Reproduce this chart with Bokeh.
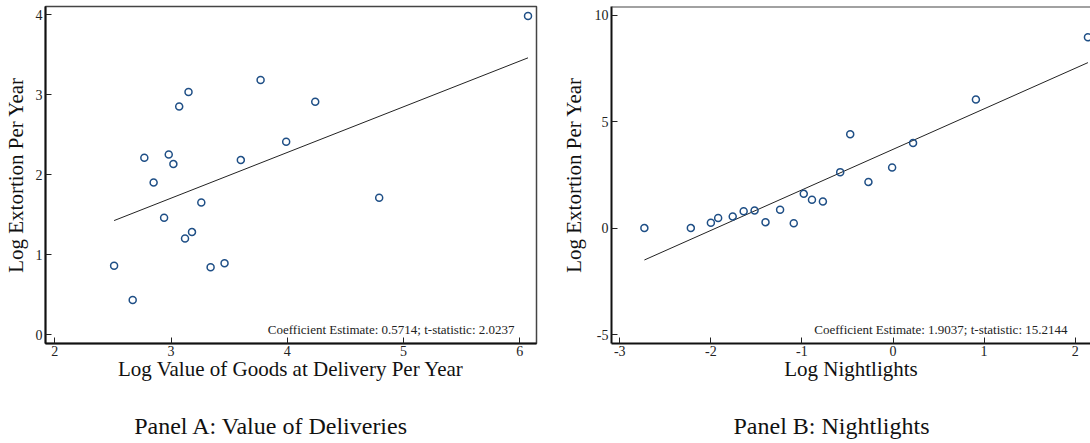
import numpy as np
from bokeh.plotting import figure
from bokeh.models import FixedTicker, Label, Range1d, Span
from bokeh.layouts import row, column
from bokeh.embed import file_html
from bokeh.resources import INLINE

# ---------------- data ----------------
# Panel A: Value of Deliveries
a_x = [2.51, 2.67, 2.77, 2.85, 2.94, 2.98, 3.02, 3.07, 3.12, 3.15,
       3.18, 3.26, 3.34, 3.46, 3.60, 3.77, 3.99, 4.24, 4.79, 6.07]
a_y = [0.86, 0.43, 2.21, 1.90, 1.46, 2.25, 2.13, 2.85, 1.20, 3.03,
       1.28, 1.65, 0.84, 0.89, 2.18, 3.18, 2.41, 2.91, 1.71, 3.98]
a_coef = 0.5714
a_intercept = -0.01
a_tstat = 2.0237
a_xticks = [2, 3, 4, 5, 6]
a_yticks = [0, 1, 2, 3, 4]

# Panel B: Nightlights
b_x = [-2.73, -2.22, -2.00, -1.92, -1.76, -1.64, -1.52, -1.40, -1.24, -1.09,
       -0.98, -0.89, -0.77, -0.58, -0.47, -0.27, -0.01, 0.22, 0.91, 2.14]
b_y = [0.00, 0.00, 0.25, 0.47, 0.55, 0.79, 0.83, 0.28, 0.86, 0.23,
       1.61, 1.33, 1.25, 2.63, 4.41, 2.17, 2.85, 4.00, 6.04, 8.97]
b_coef = 1.9037
b_intercept = 3.70
b_tstat = 15.2144
b_xticks = [-3, -2, -1, 0, 1, 2]
b_yticks = [-5, 0, 5, 10]

captions = ["Panel A: Value of Deliveries", "Panel B: Nightlights"]

FONT = "Liberation Serif"
MARK = "#1f4f86"


def make_panel(xs, ys, coef, intercept, tstat, xr, yr, xticks, yticks,
               xlabel, ylabel, width, border_left, border_right,
               ylab_standoff, note_x, outline=True):
    p = figure(width=width, height=383, output_backend="svg",
               toolbar_location=None, x_range=Range1d(*xr), y_range=Range1d(*yr),
               min_border_left=border_left, min_border_right=border_right,
               min_border_top=6, min_border_bottom=40)
    p.background_fill_color = "white"
    p.border_fill_color = "white"
    p.xgrid.visible = False
    p.ygrid.visible = False
    if outline:
        p.outline_line_color = "#444444"
        p.outline_line_width = 1.5
    else:
        p.outline_line_color = None
        p.add_layout(Span(location=yr[1], dimension="width",
                          line_color="#444444", line_width=2))

    for ax, ticks in ((p.xaxis[0], xticks), (p.yaxis[0], yticks)):
        ax.ticker = FixedTicker(ticks=ticks)
        ax.major_label_overrides = {t: str(t) for t in ticks}
        ax.minor_tick_line_color = None
        ax.major_tick_in = 6
        ax.major_tick_out = 0
        ax.major_tick_line_color = "#222222"
        ax.major_tick_line_width = 1
        ax.axis_line_color = "#111111"
        ax.axis_line_width = 2
        ax.major_label_text_font = FONT
        ax.major_label_text_font_size = "14px"
        ax.major_label_text_color = "#222222"
        ax.axis_label_text_font = FONT
        ax.axis_label_text_font_size = "21px"
        ax.axis_label_text_font_style = "normal"
        ax.axis_label_text_color = "#111111"
    p.xaxis.major_label_standoff = 2
    p.yaxis.major_label_standoff = 3
    p.xaxis.axis_label = xlabel
    p.yaxis.axis_label = ylabel
    p.xaxis.axis_label_standoff = -2
    p.yaxis.axis_label_standoff = ylab_standoff

    # fitted line
    lx = np.array([min(xs), max(xs)])
    ly = intercept + coef * lx
    p.line(lx, ly, line_color="#222222", line_width=1)

    p.scatter(xs, ys, marker="circle", size=7, fill_color=None,
              line_color=MARK, line_width=1.5)

    p.add_layout(Label(x=note_x, y=14, x_units="screen", y_units="screen",
                       text=f"Coefficient Estimate: {coef:.4f}; t-statistic: {tstat:.4f}",
                       text_font=FONT, text_font_size="13px",
                       text_color="#222222", text_align="right",
                       text_baseline="alphabetic"))
    return p


pA = make_panel(a_x, a_y, a_coef, a_intercept, a_tstat,
                (1.920, 6.143), (-0.1125, 4.10), a_xticks, a_yticks,
                "Log Value of Goods at Delivery Per Year", "Log Extortion Per Year",
                width=553, border_left=43, border_right=17, ylab_standoff=5,
                note_x=469)

pB = make_panel(b_x, b_y, b_coef, b_intercept, b_tstat,
                (-3.091, 2.168), (-5.42, 10.41), b_xticks, b_yticks,
                "Log Nightlights", "Log Extortion Per Year",
                width=537, border_left=58, border_right=0, ylab_standoff=6,
                note_x=456, outline=False)

# caption strip below both panels
pC = figure(width=1090, height=60, output_backend="svg", toolbar_location=None,
            x_axis_type=None, y_axis_type=None, min_border=0,
            x_range=Range1d(0, 1), y_range=Range1d(0, 1))
pC.outline_line_color = None
pC.xgrid.visible = False
pC.ygrid.visible = False
for cap, cx in zip(captions, [271, 831]):
    pC.add_layout(Label(x=cx, y=18, x_units="screen", y_units="screen",
                        text=cap, text_font=FONT, text_font_size="24px",
                        text_color="#111111", text_align="center",
                        text_baseline="alphabetic"))

layout = column(row(pA, pB), pC)
open("out.html", "w").write(file_html(layout, INLINE))
